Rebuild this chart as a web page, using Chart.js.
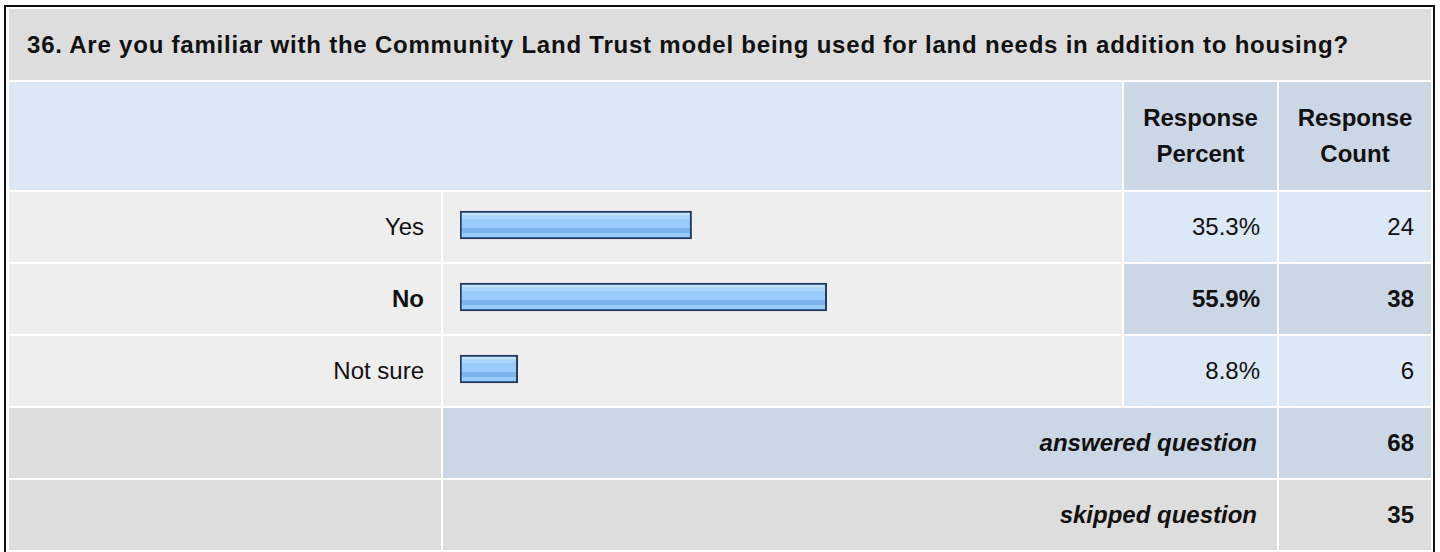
<!DOCTYPE html>
<html>
<head>
<meta charset="utf-8">
<script src="https://cdn.jsdelivr.net/npm/chart.js@4.4.1/dist/chart.umd.min.js"></script>
<style>
  html, body { margin: 0; padding: 0; background: #fff; }
  body { width: 1440px; height: 552px; position: relative; overflow: hidden;
         font-family: "Liberation Sans", Arial, sans-serif; color: #111; }
  .frame { position: absolute; left: 4px; top: 5px; width: 1427px; height: 600px;
           border: 2px solid #111; }
  .cell { position: absolute; display: flex; align-items: center; box-sizing: border-box;
          font-size: 24px; white-space: nowrap; }
  .right { justify-content: flex-end; padding-right: 17px; }
  .center { justify-content: center; text-align: center; line-height: 36px; }
  .bold { font-weight: bold; }
  #bars { position: absolute; left: 443px; top: 189px; }
</style>
</head>
<body>
<div class="frame"></div>
<canvas id="bars" width="679" height="216"></canvas>

<script>
const question = "36. Are you familiar with the Community Land Trust model being used for land needs in addition to housing?";
const categories = ["Yes", "No", "Not sure"];
const percents = [35.3, 55.9, 8.8];
const counts = [24, 38, 6];
const answered = 68;
const skipped = 35;

// column edges of the table
const cols = [[9, 432], [443, 679], [1124, 153], [1279, 152]];
const rowH = 70;

function cell(x, y, w, h, bg, text, cls, html) {
  const d = document.createElement("div");
  d.className = "cell " + (cls || "");
  d.style.left = x + "px";
  d.style.top = y + "px";
  d.style.width = w + "px";
  d.style.height = h + "px";
  d.style.background = bg;
  if (html) d.innerHTML = text; else d.textContent = text;
  document.body.insertBefore(d, document.getElementById("bars"));
  return d;
}

// title
const t = cell(9, 9, 1422, 71, "#dddddd", question, "bold");
t.style.paddingLeft = "18px";
t.style.letterSpacing = "0.78px";

// header
cell(9, 82, 1113, 108, "#dce8f5", "", "");
cell(cols[2][0], 82, cols[2][1], 108, "#cbd7e5", "Response<br>Percent", "center bold", true);
cell(cols[3][0], 82, cols[3][1], 108, "#cbd7e5", "Response<br>Count", "center bold", true);

// answer rows, the biggest one is bold
const maxPct = Math.max(...percents);
categories.forEach((c, i) => {
  const y = 192 + i * 72;
  const top = percents[i] === maxPct;
  const b = top ? " bold" : "";
  cell(cols[0][0], y, cols[0][1], rowH, "#eeeeee", c, "right" + b);
  cell(cols[1][0], y, cols[1][1], rowH, "#eeeeee", "", "");
  cell(cols[2][0], y, cols[2][1], rowH, top ? "#cbd7e5" : "#dce8f5", percents[i].toFixed(1) + "%", "right" + b);
  cell(cols[3][0], y, cols[3][1], rowH, top ? "#cbd7e5" : "#dce8f5", String(counts[i]), "right" + b);
});

// totals
cell(cols[0][0], 408, cols[0][1], rowH, "#dddddd", "", "");
const a = cell(cols[1][0], 408, 834, rowH, "#cbd7e5", "answered question", "right bold");
a.style.fontStyle = "italic";
a.style.paddingRight = "20px";
cell(cols[3][0], 408, cols[3][1], rowH, "#cbd7e5", String(answered), "right bold");

cell(cols[0][0], 480, cols[0][1], rowH, "#dddddd", "", "");
const s = cell(cols[1][0], 480, 834, rowH, "#dddddd", "skipped question", "right bold");
s.style.fontStyle = "italic";
s.style.paddingRight = "20px";
cell(cols[3][0], 480, cols[3][1], rowH, "#dddddd", String(skipped), "right bold");

// glossy bar fill, one gradient per bar
function barFill(context) {
  const chart = context.chart;
  if (!chart.chartArea || !chart.scales.y) return "#99cbfb";
  const yc = chart.scales.y.getPixelForValue(context.dataIndex);
  const g = chart.ctx.createLinearGradient(0, yc - 14, 0, yc + 14);
  g.addColorStop(0, "#c8e3fd");
  g.addColorStop(0.15, "#c8e3fd");
  g.addColorStop(0.16, "#acd5fd");
  g.addColorStop(0.29, "#acd5fd");
  g.addColorStop(0.30, "#99ccfc");
  g.addColorStop(0.59, "#99ccfc");
  g.addColorStop(0.60, "#7fb3ee");
  g.addColorStop(0.77, "#7fb3ee");
  g.addColorStop(0.78, "#99cbfb");
  g.addColorStop(1, "#99cbfb");
  return g;
}

new Chart(document.getElementById("bars"), {
  type: "bar",
  data: {
    labels: categories,
    datasets: [{
      data: percents,
      backgroundColor: barFill,
      borderColor: "#1f3b62",
      borderWidth: 2,
      borderSkipped: false,
      barThickness: 28
    }]
  },
  options: {
    indexAxis: "y",
    responsive: false,
    animation: false,
    layout: { padding: { left: 17, right: 6 } },
    plugins: { legend: { display: false }, tooltip: { enabled: false } },
    scales: {
      x: { display: false, min: 0, max: 100 },
      y: { display: false }
    }
  }
});
</script>
</body>
</html>
